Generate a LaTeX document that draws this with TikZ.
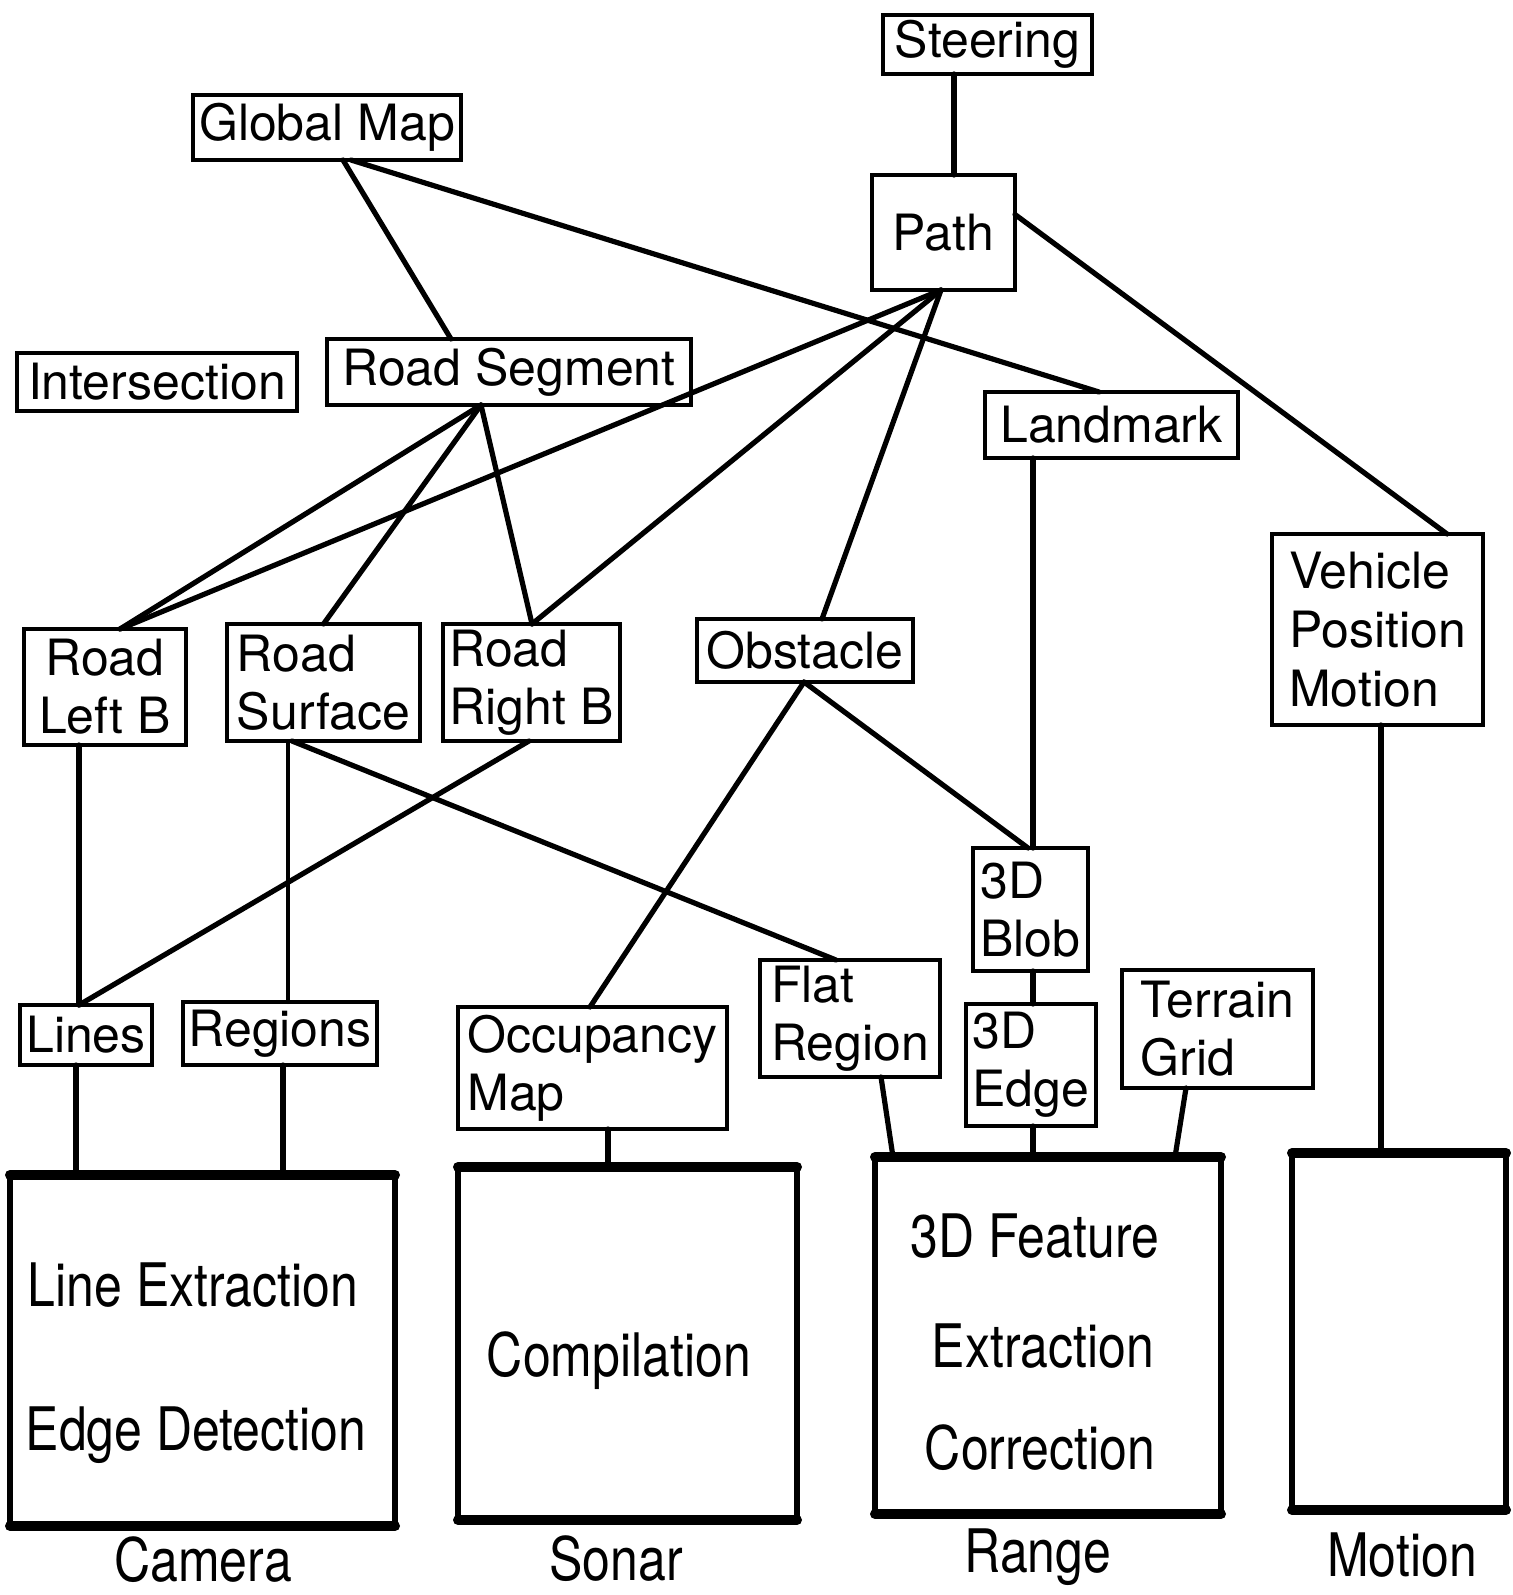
\documentclass[tikz,border=0pt]{standalone}
\usepackage{fontspec}
\usepackage{graphicx}
\setmainfont{TeX Gyre Heros}
\usetikzlibrary{calc}
% condensed-looking lettering for the sensor boxes and their captions
\newcommand\tallword[1]{\scalebox{1}[1.2]{#1}}
\begin{document}
\begin{tikzpicture}[
  x=0.5pt, y=-0.5pt,
  small/.style={draw, line width=1.8pt, inner sep=0pt, outer sep=0pt, align=left,
    font=\fontsize{25pt}{29pt}\selectfont},
  big/.style={draw, line width=3pt, inner sep=0pt, outer sep=0pt},
  bigtext/.style={inner sep=0pt, font=\fontsize{25pt}{30pt}\selectfont},
  link/.style={line width=2.6pt, line cap=round},
  thinlink/.style={line width=2pt, line cap=round},
  rim/.style={line width=5pt, line cap=round}
]
\useasboundingbox (0,0) rectangle (1512,1595);

% upper level: planning and map objects
\node[small, minimum width=104.5pt, minimum height=29.5pt] (steer) at (987.5,44.5) {Steering};
\node[small, minimum width=134pt, minimum height=32.5pt] (gmap) at (327,127.5) {Global Map};
\node[small, minimum width=71.5pt, minimum height=57.5pt] (path) at (943.5,232.5) {Path};
\node[small, minimum width=140pt, minimum height=29pt] (inter) at (157,382) {Intersection};
\node[small, minimum width=182pt, minimum height=33pt] (rseg) at (509,372) {Road Segment};
\node[small, minimum width=126.5pt, minimum height=33pt] (land) at (1111.5,425) {Landmark};
\node[small, minimum width=105.5pt, minimum height=95.5pt, font=\fontsize{25pt}{29.5pt}\selectfont] (veh) at (1377.5,629.5) {Vehicle\\Position\\Motion};

% middle level: road parts and obstacles
\node[small, minimum width=81pt, minimum height=58pt, align=center] (rlb) at (105,687) {Road\\Left B};
\node[small, minimum width=96.5pt, minimum height=58.5pt] (rsurf) at (323.5,682.5) {Road\\Surface};
\node[small, minimum width=88.5pt, minimum height=58.5pt] (rrb) at (531.5,682.5) {Road\\Right B};
\node[small, minimum width=108pt, minimum height=31.5pt] (obst) at (805,650.5) {Obstacle};
\node[small, minimum width=57.5pt, minimum height=61.5pt] (blob) at (1030.5,909.5) {3D\\Blob};

% lower level: features
\node[small, minimum width=90pt, minimum height=58.5pt] (flat) at (850,1018.5) {Flat\\Region};
\node[small, minimum width=65pt, minimum height=61pt] (edge) at (1031,1065) {3D\\Edge};
\node[small, minimum width=95.5pt, minimum height=59pt] (terr) at (1217.5,1029) {Terrain\\Grid};
\node[small, minimum width=66pt, minimum height=30pt] (lines) at (86,1035) {Lines};
\node[small, minimum width=97pt, minimum height=31.5pt] (regions) at (280,1033.5) {Regions};
\node[small, minimum width=134.5pt, minimum height=61pt] (occ) at (592.5,1068) {Occupancy\\Map};

% sensor processing boxes
\node[big, minimum width=192.5pt, minimum height=175.5pt] (camera) at (202.5,1350.5) {};
\node[big, minimum width=169.5pt, minimum height=176.5pt] (sonar) at (627.5,1343.5) {};
\node[big, minimum width=173pt, minimum height=178.5pt] (range) at (1048,1335.5) {};
\node[big, minimum width=107pt, minimum height=178.5pt] (motion) at (1399,1331.5) {};
\foreach \b in {camera,sonar,range,motion}{
  \draw[rim] (\b.north west) -- (\b.north east);
  \draw[rim] (\b.south west) -- (\b.south east);
}

\node[bigtext] (camA) at (193,1285) {\tallword{Line Extraction}};
\node[bigtext] (camB) at (196,1435) {\tallword{Edge Detection}};
\node[bigtext] (sonA) at (619,1361) {\tallword{Compilation}};
\node[bigtext] (rngA) at (1035,1236) {\tallword{3D Feature}};
\node[bigtext] (rngB) at (1043,1346) {\tallword{Extraction}};
\node[bigtext] (rngC) at (1040,1448) {\tallword{Correction}};

% sensor captions
\node[bigtext] (capCam) at (203,1560) {\tallword{Camera}};
\node[bigtext] (capSon) at (616,1559) {\tallword{Sonar}};
\node[bigtext] (capRng) at (1038,1557) {\tallword{Range}};
\node[bigtext] (capMot) at (1402,1555) {\tallword{Motion}};

% connections
\draw[link] ($(steer.south)+(-33.5,0)$) -- ($(path.north)+(10.5,0)$);
\draw[link] ($(gmap.south)+(16,0)$) -- ($(rseg.north)+(-58,0)$);
\draw[link] ($(gmap.south)+(24,0)$) -- ($(land.north)+(-12.5,0)$);
\draw[link] ($(path.east)+(0,-18)$) -- ($(veh.north)+(69.5,0)$);
\draw[link] ($(path.south)+(-2.5,0)$) -- ($(rlb.north)+(15,0)$);
\draw[link] ($(path.south)+(-2.5,0)$) -- ($(rrb.north)+(0.5,0)$);
\draw[link] ($(path.south)+(-2.5,0)$) -- ($(obst.north)+(17,0)$);
\draw[link] ($(rseg.south)+(-28,0)$) -- ($(rlb.north)+(15,0)$);
\draw[link] ($(rseg.south)+(-28,0)$) -- (rsurf.north);
\draw[link] ($(rseg.south)+(-28,0)$) -- ($(rrb.north)+(0.5,0)$);
\draw[link] ($(land.south)+(-78.5,0)$) -- ($(blob.north)+(2.5,0)$);
\draw[link] ($(obst.south)+(-1,0)$) -- ($(occ.north)+(-2.5,0)$);
\draw[link] ($(obst.south)+(-1,0)$) -- ($(blob.north)+(-2.5,0)$);
\draw[link] ($(rlb.south)+(-26,0)$) -- ($(lines.north)+(-7,0)$);
\draw[thinlink] ($(rsurf.south)+(-35.5,0)$) -- ($(regions.north)+(8,0)$);
\draw[link] ($(rsurf.south)+(-31.5,0)$) -- ($(flat.north)+(-14,0)$);
\draw[link] ($(rrb.south)+(-2.5,0)$) -- ($(lines.north)+(-7,0)$);
\draw[link] ($(blob.south)+(2.5,0)$) -- ($(edge.north)+(2,0)$);
\draw[link] ($(lines.south)+(-10,0)$) -- ($(camera.north)+(-126.5,0)$);
\draw[link] ($(regions.south)+(3,0)$) -- ($(camera.north)+(80.5,0)$);
\draw[link] ($(occ.south)+(15.5,0)$) -- ($(sonar.north)+(-19.5,0)$);
\draw[link] ($(flat.south)+(31,0)$) -- ($(range.north)+(-155,0)$);
\draw[link] ($(edge.south)+(2,0)$) -- ($(range.north)+(-15,0)$);
\draw[link] ($(terr.south)+(-31.5,0)$) -- ($(range.north)+(127,0)$);
\draw[link] ($(veh.south)+(3.5,0)$) -- ($(motion.north)+(-18,0)$);
\end{tikzpicture}
\end{document}
